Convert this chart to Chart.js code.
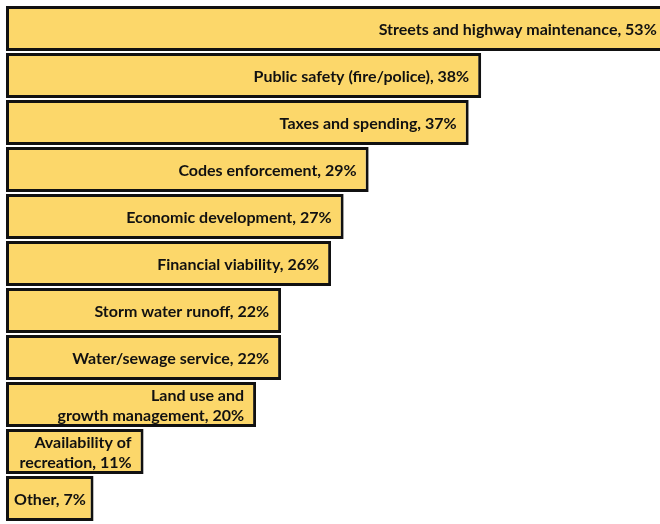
<!DOCTYPE html>
<html>
<head>
<meta charset="utf-8">
<script src="https://cdn.jsdelivr.net/npm/chart.js@4"></script>
<style>
  html, body { margin: 0; padding: 0; background: #fff; }
  #wrap { width: 660px; height: 524px; }
</style>
</head>
<body>
<div id="wrap"><canvas id="issuesChart"></canvas></div>
<script>
// issue categories (multi-line where the label wraps inside the bar)
const categories = [
    'Streets and highway maintenance',
    'Public safety (fire/police)',
    'Taxes and spending',
    'Codes enforcement',
    'Economic development',
    'Financial viability',
    'Storm water runoff',
    'Water/sewage service',
    ['Land use and', 'growth management'],
    ['Availability of', 'recreation'],
    'Other'
];
const percents = [53, 38, 37, 29, 27, 26, 22, 22, 20, 11, 7];

// writes "label, NN%" right-aligned inside each bar
const barLabels = {
    id: 'barLabels',
    afterDatasetsDraw(chart) {
        const ctx = chart.ctx;
        const meta = chart.getDatasetMeta(0);
        ctx.save();
        ctx.font = 'bold 16px Lato';
        ctx.fillStyle = '#111';
        ctx.textAlign = 'right';
        ctx.textBaseline = 'middle';
        meta.data.forEach((bar, i) => {
            const lines = [].concat(categories[i]);
            lines[lines.length - 1] += ', ' + percents[i] + '%';
            const widest = Math.max(...lines.map(t => ctx.measureText(t).width));
            // keep short bars' text from spilling past the left border
            const right = Math.max(bar.x - 12, bar.base + 8 + widest);
            const lineH = 20;
            lines.forEach((txt, j) => {
                const dy = (j - (lines.length - 1) / 2) * lineH;
                ctx.fillText(txt, right, bar.y + dy + 1);
            });
        });
        ctx.restore();
    }
};

const ctx = document.getElementById('issuesChart').getContext('2d');
new Chart(ctx, {
    type: 'bar',
    data: {
        labels: categories,
        datasets: [{
            data: percents,
            backgroundColor: '#FCD76A',
            borderColor: '#111',
            borderWidth: 3,
            borderSkipped: false,
            barPercentage: 1,
            categoryPercentage: 45 / 47,
        }]
    },
    options: {
        indexAxis: 'y',
        responsive: true,
        maintainAspectRatio: false,
        animation: false,
        layout: { padding: { left: 6, top: 5, right: 0, bottom: 2 } },
        scales: {
            x: { display: false, min: 0, max: 52.3 },
            y: { display: false }
        },
        plugins: {
            legend: { display: false },
            tooltip: { enabled: false }
        }
    },
    plugins: [barLabels]
});
</script>
</body>
</html>
